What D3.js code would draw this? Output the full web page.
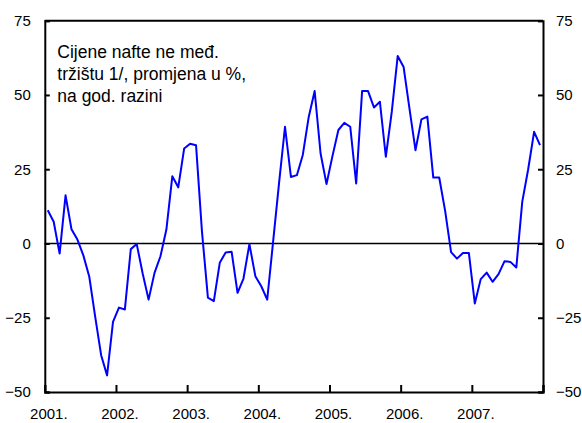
<!DOCTYPE html>
<html>
<head>
<meta charset="utf-8">
<script src="https://cdn.jsdelivr.net/npm/d3@7"></script>
<style>
  body { margin: 0; background: #fff; }
  svg { display: block; font-family: "Liberation Sans", Arial, sans-serif; }
</style>
</head>
<body>
<svg width="582" height="423"></svg>
<script>
// godisnje promjene cijena nafte, mjesecno od sijecnja 2001.
const values2001 = [11.2, 7.3, -3.4, 16.2, 4.8, 1.3, -4, -11.2, -24.7, -37.6, -44.4, -26.4];
const values2002 = [-21.6, -22.2, -1.9, -0.2, -10.1, -18.9, -9.9, -4.3, 4.7, 22.6, 18.9, 32];
const values2003 = [33.6, 33.1, 4, -18.2, -19.4, -6.5, -3, -2.8, -16.6, -11.8, -0.2, -11];
const values2004 = [-14.4, -18.9, 0.7, 20.4, 39.3, 22.4, 23, 29.8, 42.6, 51.3, 30.3, 20];
const values2005 = [29.4, 38.2, 40.6, 39.3, 20.2, 51.3, 51.3, 45.8, 47.7, 29.2, 44.3, 63.1];
const values2006 = [59.4, 45.2, 31.4, 41.8, 42.7, 22.2, 22.2, 11, -2.9, -5.1, -3.2, -3.2];
const values2007 = [-20.2, -12, -9.8, -12.9, -10.3, -6, -6.2, -8.1, 14, 25, 37.6, 33.1];

const years = ["2001.", "2002.", "2003.", "2004.", "2005.", "2006.", "2007."];
const yTicks = [-50, -25, 0, 25, 50, 75];
const noteLines = ["Cijene nafte ne međ.", "tržištu 1/, promjena u %,", "na god. razini"];

const values = [].concat(values2001, values2002, values2003, values2004, values2005, values2006, values2007);

var margin = { top: 20.7, right: 39, bottom: 31, left: 44.8 };
var width = 582 - margin.left - margin.right;
var height = 423 - margin.top - margin.bottom;

const svg = d3.select("svg")
    .append("g")
    .attr("transform", "translate(" + margin.left + "," + margin.top + ")");

const x = d3.scaleLinear().domain([0, values.length]).range([0, width]);
const y = d3.scaleLinear().domain([-50, 75]).range([height, 0]);

// osi lijevo i desno
const left = svg.append("g")
    .call(d3.axisLeft(y).tickValues(yTicks).tickSize(-5).tickPadding(14));
const right = svg.append("g")
    .attr("transform", "translate(" + width + ",0)")
    .call(d3.axisRight(y).tickValues(yTicks).tickSize(-5).tickPadding(13));

const bottom = svg.append("g")
    .attr("transform", "translate(0," + height + ")")
    .call(d3.axisBottom(x).tickValues(d3.range(0, values.length + 1, 12)).tickSize(-7).tickFormat(""));

[left, right, bottom].forEach((ax) => {
    ax.select(".domain").attr("stroke", "#000").attr("stroke-width", 2);
    ax.selectAll(".tick line").attr("stroke", "#000").attr("stroke-width", 2);
    ax.selectAll("text").attr("font-size", 15).attr("fill", "#000")
        .attr("font-family", "Liberation Sans, Arial, sans-serif");
});

// gornja linija okvira
svg.append("line")
    .attr("x1", 0).attr("x2", width)
    .attr("y1", y(75)).attr("y2", y(75))
    .attr("stroke", "#000").attr("stroke-width", 2);

// oznake godina
svg.append("g")
    .selectAll("text")
    .data(years)
    .enter()
    .append("text")
    .attr("x", (d, i) => x(i * 12) + 4)
    .attr("y", height + 27)
    .attr("text-anchor", "middle")
    .attr("font-size", 15)
    .text((d) => d);

// nulta linija
svg.append("line")
    .attr("x1", 0).attr("x2", width)
    .attr("y1", y(0)).attr("y2", y(0))
    .attr("stroke", "#000").attr("stroke-width", 1.5);

// serija
svg.append("path")
    .datum(values)
    .attr("fill", "none")
    .attr("stroke", "#0000ff")
    .attr("stroke-width", 2)
    .attr("stroke-linejoin", "round")
    .attr("d", d3.line().x((d, i) => x(i + 0.5)).y((d) => y(d)));

// tekst
svg.append("g")
    .selectAll("text")
    .data(noteLines)
    .enter()
    .append("text")
    .attr("x", 12.5)
    .attr("y", (d, i) => 37 + i * 22)
    .attr("font-size", 17.5)
    .text((d) => d);
</script>
</body>
</html>
